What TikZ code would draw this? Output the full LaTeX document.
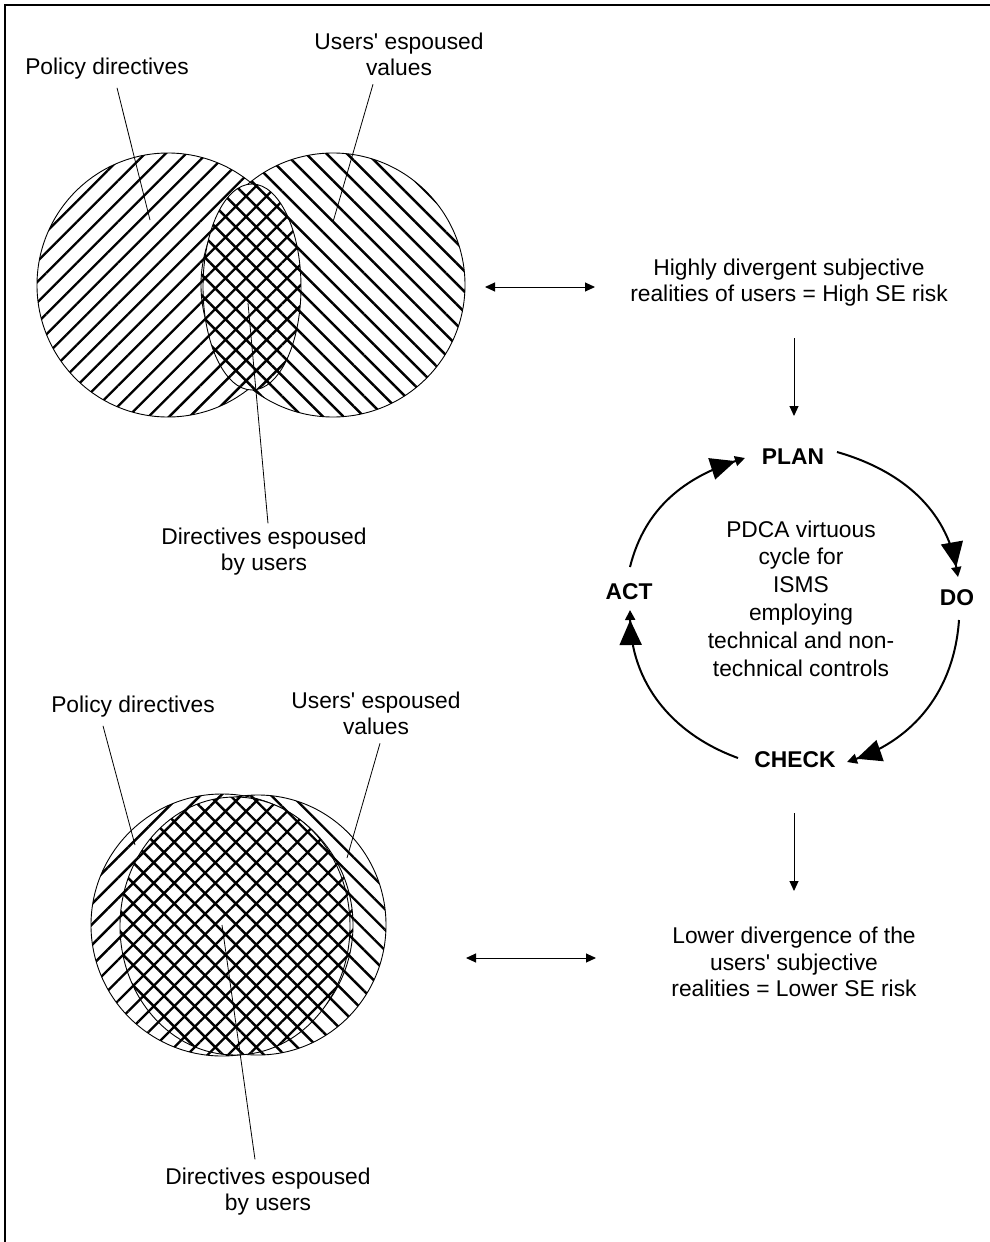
\documentclass[tikz,border=0pt]{standalone}
\usepackage{fontspec}
\setmainfont{Liberation Sans}
\usetikzlibrary{arrows.meta,patterns.meta,calc}
\begin{document}
\begin{tikzpicture}[x=1pt,y=1pt,
  txt/.style={align=center,font=\fontsize{22.8}{26.5}\selectfont,inner sep=0pt},
  bigtxt/.style={align=center,font=\fontsize{22.8}{27.8}\selectfont,inner sep=0pt},
  stage/.style={font=\fontsize{22.8}{26.5}\selectfont\bfseries,inner sep=0pt},
  leader/.style={line width=0.8pt},
  outline/.style={line width=0.9pt},
  fwd/.style={pattern={Lines[angle=45,distance=14.5pt,line width=2.4pt]}},
  bwd/.style={pattern={Lines[angle=-45,distance=14.5pt,line width=2.4pt]}},
  cross/.style={pattern={Hatch[angle=45,distance=14.5pt,line width=2.4pt]}},
  link/.style={line width=1pt,-{Triangle[length=10pt,width=9pt]}},
  both/.style={line width=1pt,{Triangle[length=10pt,width=9pt]}-{Triangle[length=10pt,width=9pt]}},
  cyc/.style={line width=2pt,-{Triangle[length=25pt,width=22pt]Triangle[length=10pt,width=10pt]}},
]
\useasboundingbox (0,0) rectangle (990,-1242);
% frame
\draw[line width=1.7pt] (5,-1242) -- (5,-5) -- (990,-5);

% ---------- top Venn ----------
\draw[outline,fwd] (168,-285) ellipse [x radius=131,y radius=132];
\draw[outline,bwd] (333,-285) ellipse [x radius=132,y radius=132];
\fill[white] (252,-287) ellipse [x radius=49,y radius=103];
\draw[outline,cross] (252,-287) ellipse [x radius=49,y radius=103];

\node[txt] (pd1) at (107,-69) {Policy directives};
\node[txt] (uv1) at (399,-54.5) {Users\textquotesingle\ espoused\\values};
\node[txt] (dv1) at (264,-551.5) {Directives espoused\\by users};
\coordinate (pd1e) at (150,-220);
\coordinate (uv1e) at (333,-222);
\coordinate (dv1s) at (248,-303);
\draw[leader] ($(pd1.south)+(10,-8)$) -- (pd1e);
\draw[leader] ($(uv1.south)+(-26,-8)$) -- (uv1e);
\draw[leader] (dv1s) -- ($(dv1.north)+(4,4)$);

% ---------- bottom Venn ----------
\draw[outline,fwd] (222,-925) ellipse [x radius=131,y radius=131];
\draw[outline,bwd] (258,-925) ellipse [x radius=128,y radius=130];
\fill[white] (235,-926) ellipse [x radius=115,y radius=129];
\draw[outline,cross] (235,-926) ellipse [x radius=115,y radius=129];

\node[txt] (pd2) at (133,-707) {Policy directives};
\node[txt] (uv2) at (376,-713.5) {Users\textquotesingle\ espoused\\values};
\node[txt] (dv2) at (268,-1191.5) {Directives espoused\\by users};
\coordinate (pd2e) at (135,-845);
\coordinate (uv2e) at (347,-858);
\coordinate (dv2s) at (222,-925);
\draw[leader] ($(pd2.south)+(-30,-8)$) -- (pd2e);
\draw[leader] ($(uv2.south)+(4,-8)$) -- (uv2e);
\draw[leader] (dv2s) -- ($(dv2.north)+(-13,8)$);

% ---------- right column ----------
\node[txt] (hi) at (789,-282.5) {Highly divergent subjective\\realities of users = High SE risk};
\node[txt] (lo) at (794,-962) {Lower divergence of the\\users\textquotesingle\ subjective\\realities = Lower SE risk};

\coordinate (a1l) at (485,-287);
\coordinate (a1r) at (595,-287);
\draw[both] (a1l) -- (a1r);
\coordinate (a2l) at (466,-958);
\coordinate (a2r) at (596,-958);
\draw[both] (a2l) -- (a2r);

% PDCA cycle
\node[stage] (plan) at (793,-457) {PLAN};
\node[stage] (act) at (629,-592) {ACT};
\node[stage] (do) at (957,-598) {DO};
\node[stage] (check) at (795,-760) {CHECK};
\node[bigtxt] (pdca) at (801,-598.5) {PDCA virtuous\\cycle for\\ISMS\\employing\\technical and non-\\technical controls};

\draw[link] ($(plan)+(1,119)$) -- ($(plan)+(1,41)$);
\draw[link] ($(check)+(-1,-53)$) -- ($(check)+(-1,-131)$);

\draw[cyc] ($(act)+(1,25)$) to[out=76,in=198] ($(plan)+(-48,-1)$);
\draw[cyc] ($(plan)+(44,5)$) to[out=-16,in=100] ($(do)+(1,21)$);
\draw[cyc] ($(do)+(2,-22)$) to[out=-94,in=19] ($(check)+(52,-2)$);
\draw[cyc] ($(check)+(-57,2)$) to[out=160,in=-89] ($(act)+(1,-18)$);
\end{tikzpicture}
\end{document}
